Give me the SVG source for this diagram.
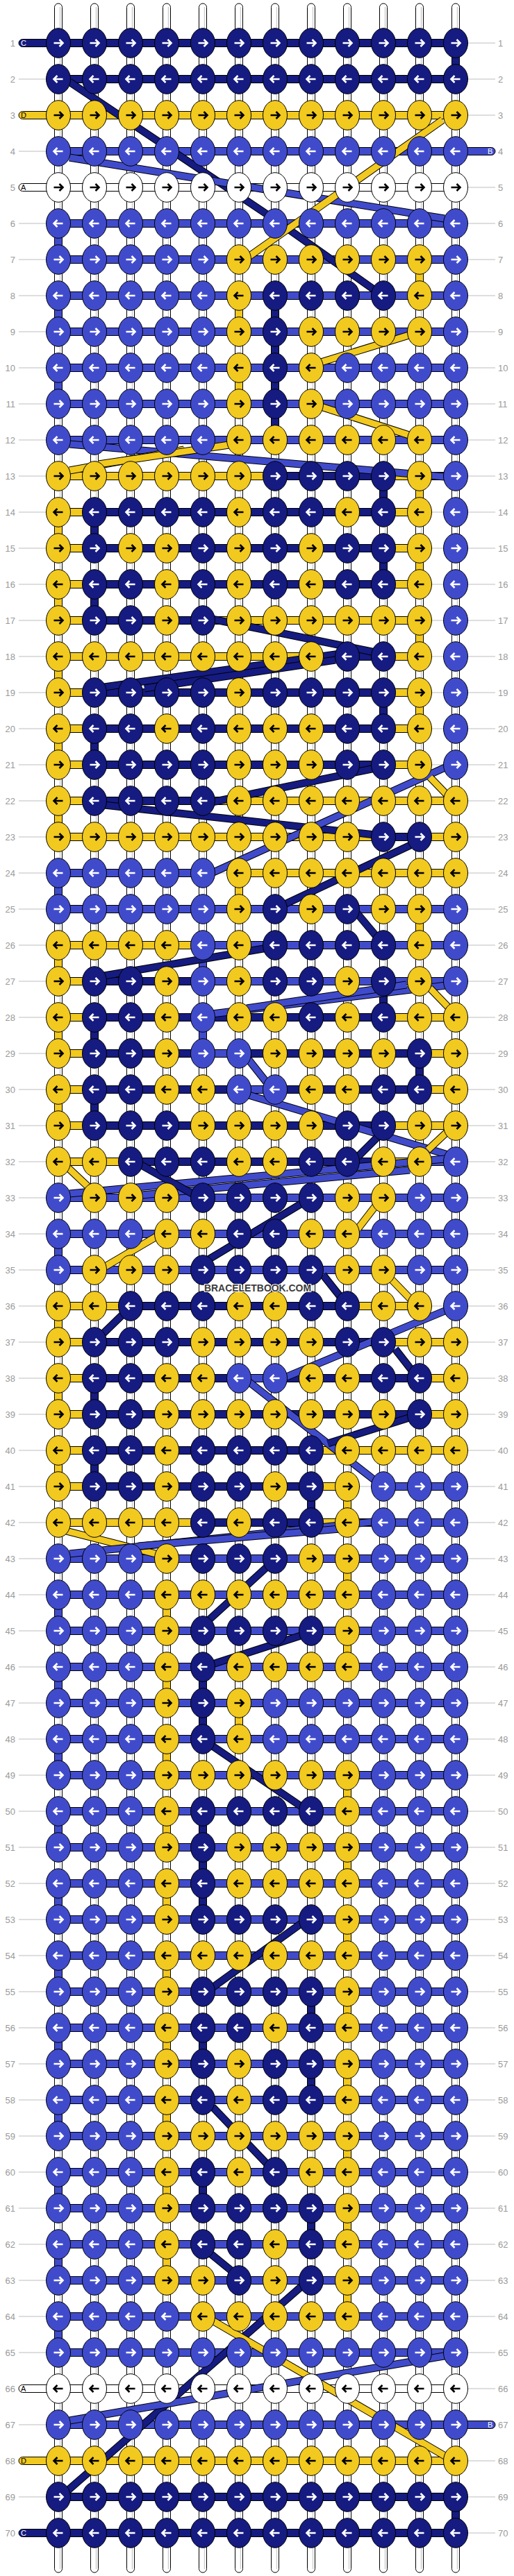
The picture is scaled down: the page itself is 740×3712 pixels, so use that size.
<svg xmlns="http://www.w3.org/2000/svg" xmlns:xlink="http://www.w3.org/1999/xlink" width="740" height="3712" viewBox="0 0 740 3712">
<style>
.st{fill:#fff;stroke:#000;stroke-width:1}
.sh{stroke:#cfcfcf;stroke-width:1.5;fill:none}
.fN{fill:#151B80;stroke:#000;stroke-width:1}
.fB{fill:#404BCC;stroke:#000;stroke-width:1}
.fY{fill:#F2C91E;stroke:#000;stroke-width:1}
.fW{fill:#fff;stroke:#000;stroke-width:1}
.gl{stroke:#bdbdbd;stroke-width:1;fill:none}
.o{stroke:#000;stroke-width:11;fill:none}
.dN{stroke:#151B80;stroke-width:9;fill:none}
.dB{stroke:#404BCC;stroke-width:9;fill:none}
.dY{stroke:#F2C91E;stroke-width:9;fill:none}
.aw{stroke:#fff;stroke-width:2.6;fill:none}
.ak{stroke:#000;stroke-width:2.6;fill:none}
.lb{font-family:"Liberation Sans",Arial,sans-serif;font-size:13px;fill:#9a9a9a}
.sl{font-family:"Liberation Sans",Arial,sans-serif;font-size:11px}
.wm{font-family:"Liberation Sans Narrow","Liberation Sans",Arial,sans-serif;font-size:14px;font-weight:bold;fill:#3c3c3c;stroke:#fff;stroke-width:2;paint-order:stroke}
</style>
<defs>
<path id="ar" d="M-6.5 0H6M1.5-5L6.5 0L1.5 5"/>
<path id="al" d="M6.5 0H-6M-1.5-5L-6.5 0L-1.5 5"/>
<g id="n"><ellipse class="fN" rx="17.5" ry="21.3"/><use href="#ar" class="aw"/></g>
<g id="N"><ellipse class="fN" rx="17.5" ry="21.3"/><use href="#al" class="aw"/></g>
<g id="b"><ellipse class="fB" rx="17.5" ry="21.3"/><use href="#ar" class="aw"/></g>
<g id="B"><ellipse class="fB" rx="17.5" ry="21.3"/><use href="#al" class="aw"/></g>
<g id="y"><ellipse class="fY" rx="17.5" ry="21.3"/><use href="#ar" class="ak"/></g>
<g id="Y"><ellipse class="fY" rx="17.5" ry="21.3"/><use href="#al" class="ak"/></g>
<g id="w"><ellipse class="fW" rx="17.5" ry="21.3"/><use href="#ar" class="ak"/></g>
<g id="W"><ellipse class="fW" rx="17.5" ry="21.3"/><use href="#al" class="ak"/></g>
</defs>
<rect width="740" height="3712" fill="#fff"/>
<g id="guides">
<path class="gl" d="M27 62H713M27 114H713M27 166H713M27 218H713M27 270H713M27 322H713M27 374H713M27 426H713M27 478H713M27 530H713M27 582H713M27 634H713M27 686H713M27 738H713M27 790H713M27 842H713M27 894H713M27 946H713M27 998H713M27 1050H713M27 1102H713M27 1154H713M27 1206H713M27 1258H713M27 1310H713M27 1362H713M27 1414H713M27 1466H713M27 1518H713M27 1570H713M27 1622H713M27 1674H713M27 1726H713M27 1778H713M27 1830H713M27 1882H713M27 1934H713M27 1986H713M27 2038H713M27 2090H713M27 2142H713M27 2194H713M27 2246H713M27 2298H713M27 2350H713M27 2402H713M27 2454H713M27 2506H713M27 2558H713M27 2610H713M27 2662H713M27 2714H713M27 2766H713M27 2818H713M27 2870H713M27 2922H713M27 2974H713M27 3026H713M27 3078H713M27 3130H713M27 3182H713M27 3234H713M27 3286H713M27 3338H713M27 3390H713M27 3442H713M27 3494H713M27 3546H713M27 3598H713M27 3650H713"/>
</g>
<g id="connectors">
<g id="strands">
<rect class="st" x="78.5" y="5" width="11" height="3702" rx="5.5"/>
<rect class="st" x="130.5" y="5" width="11" height="3702" rx="5.5"/>
<rect class="st" x="182.5" y="5" width="11" height="3702" rx="5.5"/>
<rect class="st" x="234.5" y="5" width="11" height="3702" rx="5.5"/>
<rect class="st" x="286.5" y="5" width="11" height="3702" rx="5.5"/>
<rect class="st" x="338.5" y="5" width="11" height="3702" rx="5.5"/>
<rect class="st" x="390.5" y="5" width="11" height="3702" rx="5.5"/>
<rect class="st" x="442.5" y="5" width="11" height="3702" rx="5.5"/>
<rect class="st" x="494.5" y="5" width="11" height="3702" rx="5.5"/>
<rect class="st" x="546.5" y="5" width="11" height="3702" rx="5.5"/>
<rect class="st" x="598.5" y="5" width="11" height="3702" rx="5.5"/>
<rect class="st" x="650.5" y="5" width="11" height="3702" rx="5.5"/>
<path class="sh" d="M86.5 10V3702M138.5 10V3702M190.5 10V3702M242.5 10V3702M294.5 10V3702M346.5 10V3702M398.5 10V3702M450.5 10V3702M502.5 10V3702M554.5 10V3702M606.5 10V3702M658.5 10V3702"/>
</g>
<g id="verticals">
<rect class="fN" x="650.5" y="79" width="11" height="18"/>
<rect class="fB" x="78.5" y="339" width="11" height="18"/>
<rect class="fY" x="598.5" y="391" width="11" height="18"/>
<rect class="fB" x="78.5" y="443" width="11" height="18"/><rect class="fY" x="338.5" y="443" width="11" height="18"/><rect class="fN" x="390.5" y="443" width="11" height="18"/>
<rect class="fN" x="390.5" y="495" width="11" height="18"/>
<rect class="fB" x="78.5" y="547" width="11" height="18"/><rect class="fY" x="338.5" y="547" width="11" height="18"/><rect class="fN" x="390.5" y="547" width="11" height="18"/>
<rect class="fN" x="390.5" y="599" width="11" height="18"/>
<rect class="fN" x="546.5" y="703" width="11" height="18"/><rect class="fY" x="598.5" y="703" width="11" height="18"/>
<rect class="fY" x="78.5" y="755" width="11" height="18"/><rect class="fN" x="130.5" y="755" width="11" height="18"/>
<rect class="fN" x="546.5" y="807" width="11" height="18"/><rect class="fY" x="598.5" y="807" width="11" height="18"/>
<rect class="fY" x="78.5" y="859" width="11" height="18"/><rect class="fN" x="130.5" y="859" width="11" height="18"/>
<rect class="fY" x="598.5" y="911" width="11" height="18"/>
<rect class="fY" x="78.5" y="963" width="11" height="18"/>
<rect class="fN" x="546.5" y="1015" width="11" height="18"/><rect class="fY" x="598.5" y="1015" width="11" height="18"/>
<rect class="fY" x="78.5" y="1067" width="11" height="18"/><rect class="fN" x="130.5" y="1067" width="11" height="18"/>
<rect class="fY" x="78.5" y="1171" width="11" height="18"/>
<rect class="fB" x="78.5" y="1275" width="11" height="18"/><rect class="fY" x="338.5" y="1275" width="11" height="18"/>
<rect class="fY" x="598.5" y="1327" width="11" height="18"/>
<rect class="fY" x="78.5" y="1379" width="11" height="18"/><rect class="fB" x="286.5" y="1379" width="11" height="18"/>
<rect class="fN" x="546.5" y="1431" width="11" height="18"/>
<rect class="fY" x="78.5" y="1483" width="11" height="18"/><rect class="fN" x="130.5" y="1483" width="11" height="18"/><rect class="fB" x="286.5" y="1483" width="11" height="18"/>
<rect class="fN" x="598.5" y="1535" width="11" height="18"/>
<rect class="fY" x="78.5" y="1587" width="11" height="18"/><rect class="fN" x="130.5" y="1587" width="11" height="18"/>
<rect class="fB" x="78.5" y="1795" width="11" height="18"/>
<rect class="fY" x="78.5" y="1899" width="11" height="18"/>
<rect class="fY" x="78.5" y="2003" width="11" height="18"/><rect class="fN" x="130.5" y="2003" width="11" height="18"/>
<rect class="fY" x="78.5" y="2107" width="11" height="18"/><rect class="fN" x="130.5" y="2107" width="11" height="18"/>
<rect class="fN" x="442.5" y="2159" width="11" height="18"/><rect class="fY" x="494.5" y="2159" width="11" height="18"/>
<rect class="fY" x="494.5" y="2263" width="11" height="18"/>
<rect class="fB" x="78.5" y="2315" width="11" height="18"/><rect class="fY" x="234.5" y="2315" width="11" height="18"/>
<rect class="fY" x="494.5" y="2367" width="11" height="18"/>
<rect class="fB" x="78.5" y="2419" width="11" height="18"/><rect class="fY" x="234.5" y="2419" width="11" height="18"/><rect class="fN" x="286.5" y="2419" width="11" height="18"/>
<rect class="fN" x="286.5" y="2471" width="11" height="18"/><rect class="fY" x="338.5" y="2471" width="11" height="18"/>
<rect class="fB" x="78.5" y="2523" width="11" height="18"/><rect class="fY" x="234.5" y="2523" width="11" height="18"/>
<rect class="fY" x="494.5" y="2575" width="11" height="18"/>
<rect class="fB" x="78.5" y="2627" width="11" height="18"/><rect class="fY" x="234.5" y="2627" width="11" height="18"/><rect class="fN" x="286.5" y="2627" width="11" height="18"/>
<rect class="fN" x="286.5" y="2679" width="11" height="18"/><rect class="fY" x="494.5" y="2679" width="11" height="18"/>
<rect class="fB" x="78.5" y="2731" width="11" height="18"/><rect class="fY" x="234.5" y="2731" width="11" height="18"/><rect class="fN" x="286.5" y="2731" width="11" height="18"/>
<rect class="fY" x="494.5" y="2783" width="11" height="18"/>
<rect class="fB" x="78.5" y="2835" width="11" height="18"/><rect class="fY" x="234.5" y="2835" width="11" height="18"/>
<rect class="fN" x="442.5" y="2887" width="11" height="18"/><rect class="fY" x="494.5" y="2887" width="11" height="18"/>
<rect class="fB" x="78.5" y="2939" width="11" height="18"/><rect class="fY" x="234.5" y="2939" width="11" height="18"/><rect class="fN" x="286.5" y="2939" width="11" height="18"/>
<rect class="fN" x="442.5" y="2991" width="11" height="18"/><rect class="fY" x="494.5" y="2991" width="11" height="18"/>
<rect class="fB" x="78.5" y="3043" width="11" height="18"/><rect class="fY" x="234.5" y="3043" width="11" height="18"/>
<rect class="fY" x="494.5" y="3095" width="11" height="18"/>
<rect class="fB" x="78.5" y="3147" width="11" height="18"/><rect class="fY" x="234.5" y="3147" width="11" height="18"/><rect class="fN" x="286.5" y="3147" width="11" height="18"/>
<rect class="fN" x="442.5" y="3199" width="11" height="18"/><rect class="fY" x="494.5" y="3199" width="11" height="18"/>
<rect class="fB" x="78.5" y="3251" width="11" height="18"/><rect class="fY" x="234.5" y="3251" width="11" height="18"/>
<rect class="fY" x="494.5" y="3303" width="11" height="18"/>
<rect class="fB" x="78.5" y="3355" width="11" height="18"/>
<rect class="fN" x="650.5" y="3615" width="11" height="18"/>
</g>
<g id="bars">
<rect class="fN" x="84" y="56.5" width="572" height="11"/>
<rect class="fN" x="84" y="108.5" width="572" height="11"/>
<rect class="fY" x="84" y="160.5" width="572" height="11"/>
<rect class="fB" x="84" y="212.5" width="572" height="11"/>
<rect class="fW" x="84" y="264.5" width="572" height="11"/>
<rect class="fB" x="84" y="316.5" width="572" height="11"/>
<rect class="fB" x="84" y="368.5" width="572" height="11"/>
<rect class="fB" x="84" y="420.5" width="572" height="11"/>
<rect class="fB" x="84" y="472.5" width="572" height="11"/>
<rect class="fB" x="84" y="524.5" width="572" height="11"/>
<rect class="fB" x="84" y="576.5" width="572" height="11"/>
<rect class="fB" x="84" y="628.5" width="572" height="11"/>
<rect class="fY" x="84" y="680.5" width="312" height="11"/><rect class="fN" x="396" y="680.5" width="156" height="11"/><rect class="fY" x="552" y="680.5" width="52" height="11"/><rect class="fB" x="604" y="680.5" width="52" height="11"/>
<rect class="fY" x="84" y="732.5" width="52" height="11"/><rect class="fN" x="136" y="732.5" width="416" height="11"/><rect class="fY" x="552" y="732.5" width="52" height="11"/>
<rect class="fY" x="84" y="784.5" width="52" height="11"/><rect class="fN" x="136" y="784.5" width="416" height="11"/><rect class="fY" x="552" y="784.5" width="52" height="11"/>
<rect class="fY" x="84" y="836.5" width="52" height="11"/><rect class="fN" x="136" y="836.5" width="416" height="11"/><rect class="fY" x="552" y="836.5" width="52" height="11"/>
<rect class="fY" x="84" y="888.5" width="52" height="11"/><rect class="fN" x="136" y="888.5" width="156" height="11"/><rect class="fY" x="292" y="888.5" width="312" height="11"/>
<rect class="fY" x="84" y="940.5" width="416" height="11"/><rect class="fN" x="500" y="940.5" width="52" height="11"/><rect class="fY" x="552" y="940.5" width="52" height="11"/>
<rect class="fY" x="84" y="992.5" width="52" height="11"/><rect class="fN" x="136" y="992.5" width="416" height="11"/><rect class="fY" x="552" y="992.5" width="52" height="11"/>
<rect class="fY" x="84" y="1044.5" width="52" height="11"/><rect class="fN" x="136" y="1044.5" width="416" height="11"/><rect class="fY" x="552" y="1044.5" width="52" height="11"/>
<rect class="fY" x="84" y="1096.5" width="52" height="11"/><rect class="fN" x="136" y="1096.5" width="416" height="11"/><rect class="fY" x="552" y="1096.5" width="52" height="11"/>
<rect class="fY" x="84" y="1148.5" width="52" height="11"/><rect class="fN" x="136" y="1148.5" width="156" height="11"/><rect class="fY" x="292" y="1148.5" width="364" height="11"/>
<rect class="fY" x="84" y="1200.5" width="468" height="11"/><rect class="fN" x="552" y="1200.5" width="52" height="11"/><rect class="fY" x="604" y="1200.5" width="52" height="11"/>
<rect class="fB" x="84" y="1252.5" width="208" height="11"/><rect class="fY" x="344" y="1252.5" width="312" height="11"/>
<rect class="fB" x="84" y="1304.5" width="572" height="11"/>
<rect class="fY" x="84" y="1356.5" width="208" height="11"/><rect class="fB" x="292" y="1356.5" width="364" height="11"/>
<rect class="fY" x="84" y="1408.5" width="52" height="11"/><rect class="fN" x="136" y="1408.5" width="156" height="11"/><rect class="fB" x="292" y="1408.5" width="364" height="11"/>
<rect class="fY" x="84" y="1460.5" width="52" height="11"/><rect class="fN" x="136" y="1460.5" width="416" height="11"/><rect class="fY" x="552" y="1460.5" width="104" height="11"/>
<rect class="fY" x="84" y="1512.5" width="52" height="11"/><rect class="fN" x="136" y="1512.5" width="156" height="11"/><rect class="fB" x="292" y="1512.5" width="52" height="11"/><rect class="fN" x="344" y="1512.5" width="260" height="11"/><rect class="fY" x="604" y="1512.5" width="52" height="11"/>
<rect class="fY" x="84" y="1564.5" width="52" height="11"/><rect class="fN" x="136" y="1564.5" width="208" height="11"/><rect class="fB" x="344" y="1564.5" width="52" height="11"/><rect class="fN" x="396" y="1564.5" width="208" height="11"/><rect class="fY" x="604" y="1564.5" width="52" height="11"/>
<rect class="fY" x="84" y="1616.5" width="52" height="11"/><rect class="fN" x="136" y="1616.5" width="416" height="11"/><rect class="fY" x="552" y="1616.5" width="104" height="11"/>
<rect class="fY" x="84" y="1668.5" width="104" height="11"/><rect class="fN" x="188" y="1668.5" width="364" height="11"/><rect class="fY" x="552" y="1668.5" width="52" height="11"/><rect class="fB" x="604" y="1668.5" width="52" height="11"/>
<rect class="fB" x="84" y="1720.5" width="572" height="11"/>
<rect class="fB" x="84" y="1772.5" width="572" height="11"/>
<rect class="fB" x="84" y="1824.5" width="572" height="11"/>
<rect class="fY" x="84" y="1876.5" width="104" height="11"/><rect class="fN" x="188" y="1876.5" width="312" height="11"/><rect class="fY" x="500" y="1876.5" width="104" height="11"/>
<rect class="fY" x="84" y="1928.5" width="52" height="11"/><rect class="fN" x="136" y="1928.5" width="416" height="11"/><rect class="fY" x="552" y="1928.5" width="104" height="11"/>
<rect class="fY" x="84" y="1980.5" width="52" height="11"/><rect class="fN" x="136" y="1980.5" width="208" height="11"/><rect class="fB" x="344" y="1980.5" width="52" height="11"/><rect class="fN" x="396" y="1980.5" width="208" height="11"/><rect class="fY" x="604" y="1980.5" width="52" height="11"/>
<rect class="fY" x="84" y="2032.5" width="52" height="11"/><rect class="fN" x="136" y="2032.5" width="468" height="11"/><rect class="fY" x="604" y="2032.5" width="52" height="11"/>
<rect class="fY" x="84" y="2084.5" width="52" height="11"/><rect class="fN" x="136" y="2084.5" width="312" height="11"/><rect class="fY" x="448" y="2084.5" width="208" height="11"/>
<rect class="fY" x="84" y="2136.5" width="52" height="11"/><rect class="fN" x="136" y="2136.5" width="312" height="11"/><rect class="fY" x="448" y="2136.5" width="52" height="11"/><rect class="fB" x="552" y="2136.5" width="104" height="11"/>
<rect class="fY" x="84" y="2188.5" width="208" height="11"/><rect class="fN" x="292" y="2188.5" width="156" height="11"/><rect class="fY" x="448" y="2188.5" width="52" height="11"/><rect class="fB" x="500" y="2188.5" width="156" height="11"/>
<rect class="fB" x="84" y="2240.5" width="572" height="11"/>
<rect class="fB" x="84" y="2292.5" width="572" height="11"/>
<rect class="fB" x="84" y="2344.5" width="572" height="11"/>
<rect class="fB" x="84" y="2396.5" width="572" height="11"/>
<rect class="fB" x="84" y="2448.5" width="572" height="11"/>
<rect class="fB" x="84" y="2500.5" width="572" height="11"/>
<rect class="fB" x="84" y="2552.5" width="572" height="11"/>
<rect class="fB" x="84" y="2604.5" width="572" height="11"/>
<rect class="fB" x="84" y="2656.5" width="572" height="11"/>
<rect class="fB" x="84" y="2708.5" width="572" height="11"/>
<rect class="fB" x="84" y="2760.5" width="572" height="11"/>
<rect class="fB" x="84" y="2812.5" width="572" height="11"/>
<rect class="fB" x="84" y="2864.5" width="572" height="11"/>
<rect class="fB" x="84" y="2916.5" width="572" height="11"/>
<rect class="fB" x="84" y="2968.5" width="572" height="11"/>
<rect class="fB" x="84" y="3020.5" width="572" height="11"/>
<rect class="fB" x="84" y="3072.5" width="572" height="11"/>
<rect class="fB" x="84" y="3124.5" width="572" height="11"/>
<rect class="fB" x="84" y="3176.5" width="572" height="11"/>
<rect class="fB" x="84" y="3228.5" width="572" height="11"/>
<rect class="fB" x="84" y="3280.5" width="572" height="11"/>
<rect class="fB" x="84" y="3332.5" width="572" height="11"/>
<rect class="fB" x="84" y="3384.5" width="572" height="11"/>
<rect class="fW" x="84" y="3436.5" width="572" height="11"/>
<rect class="fB" x="84" y="3488.5" width="572" height="11"/>
<rect class="fY" x="84" y="3540.5" width="572" height="11"/>
<rect class="fN" x="84" y="3592.5" width="572" height="11"/>
<rect class="fN" x="84" y="3644.5" width="572" height="11"/>
</g>
<g id="ends">
<rect class="fN" x="27" y="56.5" width="62" height="11" rx="5.5"/>
<rect class="fY" x="27" y="160.5" width="62" height="11" rx="5.5"/>
<rect class="fW" x="27" y="264.5" width="62" height="11" rx="5.5"/>
<rect class="fB" x="651" y="212.5" width="62" height="11" rx="5.5"/>
<rect class="fW" x="27" y="3436.5" width="62" height="11" rx="5.5"/>
<rect class="fB" x="651" y="3488.5" width="62" height="11" rx="5.5"/>
<rect class="fY" x="27" y="3540.5" width="62" height="11" rx="5.5"/>
<rect class="fN" x="27" y="3644.5" width="62" height="11" rx="5.5"/>
<g class="sl">
<text x="30" y="66" fill="#fff">C</text>
<text x="30" y="170" fill="#000">D</text>
<text x="30" y="274" fill="#000">A</text>
<text x="702" y="222" fill="#fff">B</text>
<text x="30" y="3446" fill="#000">A</text>
<text x="702" y="3498" fill="#fff">B</text>
<text x="30" y="3550" fill="#000">D</text>
<text x="30" y="3654" fill="#fff">C</text>
</g>
</g>
<g id="diagonals">
<polyline class="o" points="100,118 398,318 545,422"/><polyline class="dN" points="100,118 398,318 545,422"/>
<line class="o" x1="100" y1="227" x2="640" y2="315"/><line class="dB" x1="100" y1="227" x2="640" y2="315"/>
<line class="o" x1="637" y1="173" x2="355" y2="372"/><line class="dY" x1="637" y1="173" x2="355" y2="372"/>
<line class="o" x1="592" y1="482" x2="462" y2="522"/><line class="dY" x1="592" y1="482" x2="462" y2="522"/>
<line class="o" x1="462" y1="586" x2="592" y2="628"/><line class="dY" x1="462" y1="586" x2="592" y2="628"/>
<line class="o" x1="100" y1="640" x2="640" y2="687"/><line class="dB" x1="100" y1="640" x2="640" y2="687"/>
<line class="o" x1="100" y1="678" x2="265" y2="648"/><line class="dY" x1="100" y1="678" x2="265" y2="648"/>
<line class="o" x1="142" y1="669" x2="330" y2="641"/><line class="dY" x1="142" y1="669" x2="330" y2="641"/>
<line class="o" x1="305" y1="892" x2="540" y2="940"/><line class="dN" x1="305" y1="892" x2="540" y2="940"/>
<line class="o" x1="490" y1="942" x2="150" y2="990"/><line class="dN" x1="490" y1="942" x2="150" y2="990"/>
<line class="o" x1="483" y1="951" x2="208" y2="992"/><line class="dN" x1="483" y1="951" x2="208" y2="992"/>
<line class="o" x1="545" y1="1106" x2="305" y2="1156"/><line class="dN" x1="545" y1="1106" x2="305" y2="1156"/>
<line class="o" x1="150" y1="1160" x2="540" y2="1203"/><line class="dN" x1="150" y1="1160" x2="540" y2="1203"/>
<line class="o" x1="645" y1="1104" x2="305" y2="1258"/><line class="dB" x1="645" y1="1104" x2="305" y2="1258"/>
<line class="o" x1="619" y1="1120" x2="646" y2="1148"/><line class="dY" x1="619" y1="1120" x2="646" y2="1148"/>
<line class="o" x1="595" y1="1216" x2="410" y2="1303"/><line class="dN" x1="595" y1="1216" x2="410" y2="1303"/>
<line class="o" x1="514" y1="1316" x2="545" y2="1353"/><line class="dN" x1="514" y1="1316" x2="545" y2="1353"/>
<line class="o" x1="385" y1="1366" x2="150" y2="1406"/><line class="dN" x1="385" y1="1366" x2="150" y2="1406"/>
<line class="o" x1="642" y1="1420" x2="305" y2="1461"/><line class="dB" x1="642" y1="1420" x2="305" y2="1461"/>
<line class="o" x1="585" y1="1419" x2="355" y2="1453"/><line class="dB" x1="585" y1="1419" x2="355" y2="1453"/>
<line class="o" x1="619" y1="1424" x2="646" y2="1452"/><line class="dY" x1="619" y1="1424" x2="646" y2="1452"/>
<line class="o" x1="358" y1="1527" x2="388" y2="1565"/><line class="dB" x1="358" y1="1527" x2="388" y2="1565"/>
<line class="o" x1="358" y1="1578" x2="645" y2="1664"/><line class="dB" x1="358" y1="1578" x2="645" y2="1664"/>
<line class="o" x1="515" y1="1667" x2="545" y2="1637"/><line class="dN" x1="515" y1="1667" x2="545" y2="1637"/>
<line class="o" x1="616" y1="1657" x2="648" y2="1627"/><line class="dY" x1="616" y1="1657" x2="648" y2="1627"/>
<line class="o" x1="640" y1="1670" x2="100" y2="1720"/><line class="dB" x1="640" y1="1670" x2="100" y2="1720"/>
<line class="o" x1="590" y1="1686" x2="204" y2="1722"/><line class="dB" x1="590" y1="1686" x2="204" y2="1722"/>
<line class="o" x1="200" y1="1677" x2="280" y2="1722"/><line class="dN" x1="200" y1="1677" x2="280" y2="1722"/>
<line class="o" x1="95" y1="1680" x2="128" y2="1711"/><line class="dY" x1="95" y1="1680" x2="128" y2="1711"/>
<line class="o" x1="438" y1="1732" x2="300" y2="1815"/><line class="dN" x1="438" y1="1732" x2="300" y2="1815"/>
<line class="o" x1="545" y1="1732" x2="515" y2="1771"/><line class="dY" x1="545" y1="1732" x2="515" y2="1771"/>
<line class="o" x1="225" y1="1782" x2="150" y2="1826"/><line class="dY" x1="225" y1="1782" x2="150" y2="1826"/>
<line class="o" x1="465" y1="1837" x2="495" y2="1875"/><line class="dN" x1="465" y1="1837" x2="495" y2="1875"/>
<line class="o" x1="564" y1="1844" x2="594" y2="1875"/><line class="dY" x1="564" y1="1844" x2="594" y2="1875"/>
<line class="o" x1="180" y1="1891" x2="145" y2="1925"/><line class="dN" x1="180" y1="1891" x2="145" y2="1925"/>
<line class="o" x1="645" y1="1887" x2="410" y2="1985"/><line class="dB" x1="645" y1="1887" x2="410" y2="1985"/>
<line class="o" x1="569" y1="1944" x2="597" y2="1980"/><line class="dN" x1="569" y1="1944" x2="597" y2="1980"/>
<line class="o" x1="358" y1="1991" x2="542" y2="2135"/><line class="dB" x1="358" y1="1991" x2="542" y2="2135"/>
<line class="o" x1="592" y1="2042" x2="472" y2="2080"/><line class="dN" x1="592" y1="2042" x2="472" y2="2080"/>
<line class="o" x1="95" y1="2206" x2="228" y2="2240"/><line class="dY" x1="95" y1="2206" x2="228" y2="2240"/>
<line class="o" x1="100" y1="2239" x2="545" y2="2192"/><line class="dB" x1="100" y1="2239" x2="545" y2="2192"/>
<line class="o" x1="199" y1="2228" x2="490" y2="2203"/><line class="dB" x1="199" y1="2228" x2="490" y2="2203"/>
<line class="o" x1="392" y1="2251" x2="300" y2="2335"/><line class="dN" x1="392" y1="2251" x2="300" y2="2335"/>
<line class="o" x1="436" y1="2356" x2="306" y2="2398"/><line class="dN" x1="436" y1="2356" x2="306" y2="2398"/>
<line class="o" x1="300" y1="2512" x2="438" y2="2606"/><line class="dN" x1="300" y1="2512" x2="438" y2="2606"/>
<line class="o" x1="436" y1="2770" x2="306" y2="2864"/><line class="dN" x1="436" y1="2770" x2="306" y2="2864"/>
<line class="o" x1="306" y1="3036" x2="388" y2="3122"/><line class="dN" x1="306" y1="3036" x2="388" y2="3122"/>
<line class="o" x1="300" y1="3245" x2="338" y2="3276"/><line class="dN" x1="300" y1="3245" x2="338" y2="3276"/>
<line class="o" x1="436" y1="3293" x2="95" y2="3591"/><line class="dN" x1="436" y1="3293" x2="95" y2="3591"/>
<line class="o" x1="306" y1="3344" x2="644" y2="3541"/><line class="dY" x1="306" y1="3344" x2="644" y2="3541"/>
<line class="o" x1="100" y1="3488" x2="645" y2="3394"/><line class="dB" x1="100" y1="3488" x2="645" y2="3394"/>
</g>
</g>
<g id="knots">
<g id="r1" transform="translate(0 62)"><use href="#n" x="84"/><use href="#n" x="136"/><use href="#n" x="188"/><use href="#n" x="240"/><use href="#n" x="292"/><use href="#n" x="344"/><use href="#n" x="396"/><use href="#n" x="448"/><use href="#n" x="500"/><use href="#n" x="552"/><use href="#n" x="604"/><use href="#n" x="656"/></g>
<g id="r2" transform="translate(0 114)"><use href="#N" x="84"/><use href="#N" x="136"/><use href="#N" x="188"/><use href="#N" x="240"/><use href="#N" x="292"/><use href="#N" x="344"/><use href="#N" x="396"/><use href="#N" x="448"/><use href="#N" x="500"/><use href="#N" x="552"/><use href="#N" x="604"/><use href="#N" x="656"/></g>
<g id="r3" transform="translate(0 166)"><use href="#y" x="84"/><use href="#y" x="136"/><use href="#y" x="188"/><use href="#y" x="240"/><use href="#y" x="292"/><use href="#y" x="344"/><use href="#y" x="396"/><use href="#y" x="448"/><use href="#y" x="500"/><use href="#y" x="552"/><use href="#y" x="604"/><use href="#y" x="656"/></g>
<g id="r4" transform="translate(0 218)"><use href="#B" x="84"/><use href="#B" x="136"/><use href="#B" x="188"/><use href="#B" x="240"/><use href="#B" x="292"/><use href="#B" x="344"/><use href="#B" x="396"/><use href="#B" x="448"/><use href="#B" x="500"/><use href="#B" x="552"/><use href="#B" x="604"/><use href="#B" x="656"/></g>
<g id="r5" transform="translate(0 270)"><use href="#w" x="84"/><use href="#w" x="136"/><use href="#w" x="188"/><use href="#w" x="240"/><use href="#w" x="292"/><use href="#w" x="344"/><use href="#w" x="396"/><use href="#w" x="448"/><use href="#w" x="500"/><use href="#w" x="552"/><use href="#w" x="604"/><use href="#w" x="656"/></g>
<g id="r6" transform="translate(0 322)"><use href="#B" x="84"/><use href="#B" x="136"/><use href="#B" x="188"/><use href="#B" x="240"/><use href="#B" x="292"/><use href="#B" x="344"/><use href="#B" x="396"/><use href="#B" x="448"/><use href="#B" x="500"/><use href="#B" x="552"/><use href="#B" x="604"/><use href="#B" x="656"/></g>
<g id="r7" transform="translate(0 374)"><use href="#b" x="84"/><use href="#b" x="136"/><use href="#b" x="188"/><use href="#b" x="240"/><use href="#b" x="292"/><use href="#y" x="344"/><use href="#y" x="396"/><use href="#y" x="448"/><use href="#y" x="500"/><use href="#y" x="552"/><use href="#y" x="604"/><use href="#b" x="656"/></g>
<g id="r8" transform="translate(0 426)"><use href="#B" x="84"/><use href="#B" x="136"/><use href="#B" x="188"/><use href="#B" x="240"/><use href="#B" x="292"/><use href="#Y" x="344"/><use href="#N" x="396"/><use href="#N" x="448"/><use href="#N" x="500"/><use href="#N" x="552"/><use href="#Y" x="604"/><use href="#B" x="656"/></g>
<g id="r9" transform="translate(0 478)"><use href="#b" x="84"/><use href="#b" x="136"/><use href="#b" x="188"/><use href="#b" x="240"/><use href="#b" x="292"/><use href="#y" x="344"/><use href="#n" x="396"/><use href="#y" x="448"/><use href="#y" x="500"/><use href="#y" x="552"/><use href="#y" x="604"/><use href="#b" x="656"/></g>
<g id="r10" transform="translate(0 530)"><use href="#B" x="84"/><use href="#B" x="136"/><use href="#B" x="188"/><use href="#B" x="240"/><use href="#B" x="292"/><use href="#Y" x="344"/><use href="#N" x="396"/><use href="#Y" x="448"/><use href="#B" x="500"/><use href="#B" x="552"/><use href="#B" x="604"/><use href="#B" x="656"/></g>
<g id="r11" transform="translate(0 582)"><use href="#b" x="84"/><use href="#b" x="136"/><use href="#b" x="188"/><use href="#b" x="240"/><use href="#b" x="292"/><use href="#y" x="344"/><use href="#n" x="396"/><use href="#y" x="448"/><use href="#b" x="500"/><use href="#b" x="552"/><use href="#b" x="604"/><use href="#b" x="656"/></g>
<g id="r12" transform="translate(0 634)"><use href="#B" x="84"/><use href="#B" x="136"/><use href="#B" x="188"/><use href="#B" x="240"/><use href="#B" x="292"/><use href="#Y" x="344"/><use href="#Y" x="396"/><use href="#Y" x="448"/><use href="#Y" x="500"/><use href="#Y" x="552"/><use href="#Y" x="604"/><use href="#B" x="656"/></g>
<g id="r13" transform="translate(0 686)"><use href="#y" x="84"/><use href="#y" x="136"/><use href="#y" x="188"/><use href="#y" x="240"/><use href="#y" x="292"/><use href="#y" x="344"/><use href="#n" x="396"/><use href="#n" x="448"/><use href="#n" x="500"/><use href="#n" x="552"/><use href="#y" x="604"/><use href="#b" x="656"/></g>
<g id="r14" transform="translate(0 738)"><use href="#Y" x="84"/><use href="#N" x="136"/><use href="#N" x="188"/><use href="#N" x="240"/><use href="#N" x="292"/><use href="#Y" x="344"/><use href="#N" x="396"/><use href="#N" x="448"/><use href="#Y" x="500"/><use href="#N" x="552"/><use href="#Y" x="604"/><use href="#B" x="656"/></g>
<g id="r15" transform="translate(0 790)"><use href="#y" x="84"/><use href="#n" x="136"/><use href="#y" x="188"/><use href="#y" x="240"/><use href="#n" x="292"/><use href="#y" x="344"/><use href="#n" x="396"/><use href="#y" x="448"/><use href="#n" x="500"/><use href="#n" x="552"/><use href="#y" x="604"/><use href="#b" x="656"/></g>
<g id="r16" transform="translate(0 842)"><use href="#Y" x="84"/><use href="#N" x="136"/><use href="#N" x="188"/><use href="#Y" x="240"/><use href="#N" x="292"/><use href="#Y" x="344"/><use href="#N" x="396"/><use href="#Y" x="448"/><use href="#N" x="500"/><use href="#N" x="552"/><use href="#Y" x="604"/><use href="#B" x="656"/></g>
<g id="r17" transform="translate(0 894)"><use href="#y" x="84"/><use href="#n" x="136"/><use href="#n" x="188"/><use href="#y" x="240"/><use href="#n" x="292"/><use href="#y" x="344"/><use href="#y" x="396"/><use href="#y" x="448"/><use href="#y" x="500"/><use href="#y" x="552"/><use href="#y" x="604"/><use href="#b" x="656"/></g>
<g id="r18" transform="translate(0 946)"><use href="#Y" x="84"/><use href="#Y" x="136"/><use href="#Y" x="188"/><use href="#Y" x="240"/><use href="#Y" x="292"/><use href="#Y" x="344"/><use href="#Y" x="396"/><use href="#Y" x="448"/><use href="#N" x="500"/><use href="#N" x="552"/><use href="#Y" x="604"/><use href="#B" x="656"/></g>
<g id="r19" transform="translate(0 998)"><use href="#y" x="84"/><use href="#n" x="136"/><use href="#n" x="188"/><use href="#n" x="240"/><use href="#n" x="292"/><use href="#y" x="344"/><use href="#n" x="396"/><use href="#n" x="448"/><use href="#n" x="500"/><use href="#n" x="552"/><use href="#y" x="604"/><use href="#b" x="656"/></g>
<g id="r20" transform="translate(0 1050)"><use href="#Y" x="84"/><use href="#N" x="136"/><use href="#N" x="188"/><use href="#Y" x="240"/><use href="#N" x="292"/><use href="#Y" x="344"/><use href="#Y" x="396"/><use href="#Y" x="448"/><use href="#N" x="500"/><use href="#N" x="552"/><use href="#Y" x="604"/><use href="#B" x="656"/></g>
<g id="r21" transform="translate(0 1102)"><use href="#y" x="84"/><use href="#n" x="136"/><use href="#n" x="188"/><use href="#n" x="240"/><use href="#n" x="292"/><use href="#y" x="344"/><use href="#y" x="396"/><use href="#y" x="448"/><use href="#n" x="500"/><use href="#n" x="552"/><use href="#y" x="604"/><use href="#b" x="656"/></g>
<g id="r22" transform="translate(0 1154)"><use href="#Y" x="84"/><use href="#N" x="136"/><use href="#N" x="188"/><use href="#N" x="240"/><use href="#N" x="292"/><use href="#Y" x="344"/><use href="#Y" x="396"/><use href="#Y" x="448"/><use href="#Y" x="500"/><use href="#Y" x="552"/><use href="#Y" x="604"/><use href="#Y" x="656"/></g>
<g id="r23" transform="translate(0 1206)"><use href="#y" x="84"/><use href="#y" x="136"/><use href="#y" x="188"/><use href="#y" x="240"/><use href="#y" x="292"/><use href="#y" x="344"/><use href="#y" x="396"/><use href="#y" x="448"/><use href="#y" x="500"/><use href="#n" x="552"/><use href="#n" x="604"/><use href="#y" x="656"/></g>
<g id="r24" transform="translate(0 1258)"><use href="#B" x="84"/><use href="#B" x="136"/><use href="#B" x="188"/><use href="#B" x="240"/><use href="#B" x="292"/><use href="#Y" x="344"/><use href="#Y" x="396"/><use href="#Y" x="448"/><use href="#Y" x="500"/><use href="#Y" x="552"/><use href="#Y" x="604"/><use href="#Y" x="656"/></g>
<g id="r25" transform="translate(0 1310)"><use href="#b" x="84"/><use href="#b" x="136"/><use href="#b" x="188"/><use href="#b" x="240"/><use href="#b" x="292"/><use href="#y" x="344"/><use href="#n" x="396"/><use href="#y" x="448"/><use href="#n" x="500"/><use href="#y" x="552"/><use href="#y" x="604"/><use href="#b" x="656"/></g>
<g id="r26" transform="translate(0 1362)"><use href="#Y" x="84"/><use href="#Y" x="136"/><use href="#Y" x="188"/><use href="#Y" x="240"/><use href="#B" x="292"/><use href="#Y" x="344"/><use href="#N" x="396"/><use href="#N" x="448"/><use href="#N" x="500"/><use href="#N" x="552"/><use href="#Y" x="604"/><use href="#B" x="656"/></g>
<g id="r27" transform="translate(0 1414)"><use href="#y" x="84"/><use href="#n" x="136"/><use href="#n" x="188"/><use href="#y" x="240"/><use href="#b" x="292"/><use href="#y" x="344"/><use href="#n" x="396"/><use href="#n" x="448"/><use href="#y" x="500"/><use href="#n" x="552"/><use href="#y" x="604"/><use href="#b" x="656"/></g>
<g id="r28" transform="translate(0 1466)"><use href="#Y" x="84"/><use href="#N" x="136"/><use href="#N" x="188"/><use href="#Y" x="240"/><use href="#B" x="292"/><use href="#Y" x="344"/><use href="#Y" x="396"/><use href="#N" x="448"/><use href="#Y" x="500"/><use href="#N" x="552"/><use href="#Y" x="604"/><use href="#Y" x="656"/></g>
<g id="r29" transform="translate(0 1518)"><use href="#y" x="84"/><use href="#n" x="136"/><use href="#n" x="188"/><use href="#y" x="240"/><use href="#b" x="292"/><use href="#b" x="344"/><use href="#y" x="396"/><use href="#y" x="448"/><use href="#y" x="500"/><use href="#y" x="552"/><use href="#n" x="604"/><use href="#y" x="656"/></g>
<g id="r30" transform="translate(0 1570)"><use href="#Y" x="84"/><use href="#N" x="136"/><use href="#N" x="188"/><use href="#Y" x="240"/><use href="#Y" x="292"/><use href="#B" x="344"/><use href="#B" x="396"/><use href="#Y" x="448"/><use href="#Y" x="500"/><use href="#N" x="552"/><use href="#N" x="604"/><use href="#Y" x="656"/></g>
<g id="r31" transform="translate(0 1622)"><use href="#y" x="84"/><use href="#n" x="136"/><use href="#n" x="188"/><use href="#n" x="240"/><use href="#y" x="292"/><use href="#y" x="344"/><use href="#y" x="396"/><use href="#y" x="448"/><use href="#n" x="500"/><use href="#n" x="552"/><use href="#y" x="604"/><use href="#y" x="656"/></g>
<g id="r32" transform="translate(0 1674)"><use href="#Y" x="84"/><use href="#Y" x="136"/><use href="#N" x="188"/><use href="#N" x="240"/><use href="#N" x="292"/><use href="#Y" x="344"/><use href="#Y" x="396"/><use href="#N" x="448"/><use href="#N" x="500"/><use href="#Y" x="552"/><use href="#Y" x="604"/><use href="#B" x="656"/></g>
<g id="r33" transform="translate(0 1726)"><use href="#b" x="84"/><use href="#y" x="136"/><use href="#y" x="188"/><use href="#y" x="240"/><use href="#n" x="292"/><use href="#n" x="344"/><use href="#n" x="396"/><use href="#n" x="448"/><use href="#y" x="500"/><use href="#y" x="552"/><use href="#b" x="604"/><use href="#b" x="656"/></g>
<g id="r34" transform="translate(0 1778)"><use href="#B" x="84"/><use href="#B" x="136"/><use href="#B" x="188"/><use href="#Y" x="240"/><use href="#Y" x="292"/><use href="#N" x="344"/><use href="#N" x="396"/><use href="#Y" x="448"/><use href="#Y" x="500"/><use href="#B" x="552"/><use href="#B" x="604"/><use href="#B" x="656"/></g>
<g id="r35" transform="translate(0 1830)"><use href="#b" x="84"/><use href="#y" x="136"/><use href="#y" x="188"/><use href="#y" x="240"/><use href="#n" x="292"/><use href="#n" x="344"/><use href="#n" x="396"/><use href="#n" x="448"/><use href="#y" x="500"/><use href="#y" x="552"/><use href="#b" x="604"/><use href="#b" x="656"/></g>
<g id="r36" transform="translate(0 1882)"><use href="#Y" x="84"/><use href="#Y" x="136"/><use href="#N" x="188"/><use href="#N" x="240"/><use href="#N" x="292"/><use href="#Y" x="344"/><use href="#Y" x="396"/><use href="#N" x="448"/><use href="#N" x="500"/><use href="#Y" x="552"/><use href="#Y" x="604"/><use href="#B" x="656"/></g>
<g id="r37" transform="translate(0 1934)"><use href="#y" x="84"/><use href="#n" x="136"/><use href="#n" x="188"/><use href="#n" x="240"/><use href="#y" x="292"/><use href="#y" x="344"/><use href="#y" x="396"/><use href="#y" x="448"/><use href="#n" x="500"/><use href="#n" x="552"/><use href="#y" x="604"/><use href="#y" x="656"/></g>
<g id="r38" transform="translate(0 1986)"><use href="#Y" x="84"/><use href="#N" x="136"/><use href="#N" x="188"/><use href="#Y" x="240"/><use href="#Y" x="292"/><use href="#B" x="344"/><use href="#B" x="396"/><use href="#Y" x="448"/><use href="#Y" x="500"/><use href="#N" x="552"/><use href="#N" x="604"/><use href="#Y" x="656"/></g>
<g id="r39" transform="translate(0 2038)"><use href="#y" x="84"/><use href="#n" x="136"/><use href="#n" x="188"/><use href="#y" x="240"/><use href="#y" x="292"/><use href="#y" x="344"/><use href="#y" x="396"/><use href="#y" x="448"/><use href="#y" x="500"/><use href="#y" x="552"/><use href="#n" x="604"/><use href="#y" x="656"/></g>
<g id="r40" transform="translate(0 2090)"><use href="#Y" x="84"/><use href="#N" x="136"/><use href="#N" x="188"/><use href="#Y" x="240"/><use href="#N" x="292"/><use href="#N" x="344"/><use href="#N" x="396"/><use href="#N" x="448"/><use href="#Y" x="500"/><use href="#Y" x="552"/><use href="#Y" x="604"/><use href="#Y" x="656"/></g>
<g id="r41" transform="translate(0 2142)"><use href="#y" x="84"/><use href="#n" x="136"/><use href="#n" x="188"/><use href="#y" x="240"/><use href="#n" x="292"/><use href="#n" x="344"/><use href="#y" x="396"/><use href="#n" x="448"/><use href="#y" x="500"/><use href="#b" x="552"/><use href="#b" x="604"/><use href="#b" x="656"/></g>
<g id="r42" transform="translate(0 2194)"><use href="#Y" x="84"/><use href="#Y" x="136"/><use href="#Y" x="188"/><use href="#Y" x="240"/><use href="#N" x="292"/><use href="#Y" x="344"/><use href="#N" x="396"/><use href="#N" x="448"/><use href="#Y" x="500"/><use href="#B" x="552"/><use href="#B" x="604"/><use href="#B" x="656"/></g>
<g id="r43" transform="translate(0 2246)"><use href="#b" x="84"/><use href="#b" x="136"/><use href="#b" x="188"/><use href="#y" x="240"/><use href="#n" x="292"/><use href="#n" x="344"/><use href="#n" x="396"/><use href="#y" x="448"/><use href="#y" x="500"/><use href="#b" x="552"/><use href="#b" x="604"/><use href="#b" x="656"/></g>
<g id="r44" transform="translate(0 2298)"><use href="#B" x="84"/><use href="#B" x="136"/><use href="#B" x="188"/><use href="#Y" x="240"/><use href="#Y" x="292"/><use href="#Y" x="344"/><use href="#Y" x="396"/><use href="#Y" x="448"/><use href="#Y" x="500"/><use href="#B" x="552"/><use href="#B" x="604"/><use href="#B" x="656"/></g>
<g id="r45" transform="translate(0 2350)"><use href="#b" x="84"/><use href="#b" x="136"/><use href="#b" x="188"/><use href="#y" x="240"/><use href="#n" x="292"/><use href="#n" x="344"/><use href="#n" x="396"/><use href="#n" x="448"/><use href="#y" x="500"/><use href="#b" x="552"/><use href="#b" x="604"/><use href="#b" x="656"/></g>
<g id="r46" transform="translate(0 2402)"><use href="#B" x="84"/><use href="#B" x="136"/><use href="#B" x="188"/><use href="#Y" x="240"/><use href="#N" x="292"/><use href="#Y" x="344"/><use href="#Y" x="396"/><use href="#Y" x="448"/><use href="#Y" x="500"/><use href="#B" x="552"/><use href="#B" x="604"/><use href="#B" x="656"/></g>
<g id="r47" transform="translate(0 2454)"><use href="#b" x="84"/><use href="#b" x="136"/><use href="#b" x="188"/><use href="#y" x="240"/><use href="#n" x="292"/><use href="#y" x="344"/><use href="#b" x="396"/><use href="#b" x="448"/><use href="#b" x="500"/><use href="#b" x="552"/><use href="#b" x="604"/><use href="#b" x="656"/></g>
<g id="r48" transform="translate(0 2506)"><use href="#B" x="84"/><use href="#B" x="136"/><use href="#B" x="188"/><use href="#Y" x="240"/><use href="#N" x="292"/><use href="#Y" x="344"/><use href="#B" x="396"/><use href="#B" x="448"/><use href="#B" x="500"/><use href="#B" x="552"/><use href="#B" x="604"/><use href="#B" x="656"/></g>
<g id="r49" transform="translate(0 2558)"><use href="#b" x="84"/><use href="#b" x="136"/><use href="#b" x="188"/><use href="#y" x="240"/><use href="#y" x="292"/><use href="#y" x="344"/><use href="#y" x="396"/><use href="#y" x="448"/><use href="#y" x="500"/><use href="#b" x="552"/><use href="#b" x="604"/><use href="#b" x="656"/></g>
<g id="r50" transform="translate(0 2610)"><use href="#B" x="84"/><use href="#B" x="136"/><use href="#B" x="188"/><use href="#Y" x="240"/><use href="#N" x="292"/><use href="#N" x="344"/><use href="#N" x="396"/><use href="#N" x="448"/><use href="#Y" x="500"/><use href="#B" x="552"/><use href="#B" x="604"/><use href="#B" x="656"/></g>
<g id="r51" transform="translate(0 2662)"><use href="#b" x="84"/><use href="#b" x="136"/><use href="#b" x="188"/><use href="#y" x="240"/><use href="#n" x="292"/><use href="#y" x="344"/><use href="#y" x="396"/><use href="#y" x="448"/><use href="#y" x="500"/><use href="#b" x="552"/><use href="#b" x="604"/><use href="#b" x="656"/></g>
<g id="r52" transform="translate(0 2714)"><use href="#B" x="84"/><use href="#B" x="136"/><use href="#B" x="188"/><use href="#Y" x="240"/><use href="#N" x="292"/><use href="#Y" x="344"/><use href="#Y" x="396"/><use href="#Y" x="448"/><use href="#Y" x="500"/><use href="#B" x="552"/><use href="#B" x="604"/><use href="#B" x="656"/></g>
<g id="r53" transform="translate(0 2766)"><use href="#b" x="84"/><use href="#b" x="136"/><use href="#b" x="188"/><use href="#y" x="240"/><use href="#n" x="292"/><use href="#n" x="344"/><use href="#n" x="396"/><use href="#n" x="448"/><use href="#y" x="500"/><use href="#b" x="552"/><use href="#b" x="604"/><use href="#b" x="656"/></g>
<g id="r54" transform="translate(0 2818)"><use href="#B" x="84"/><use href="#B" x="136"/><use href="#B" x="188"/><use href="#Y" x="240"/><use href="#Y" x="292"/><use href="#Y" x="344"/><use href="#Y" x="396"/><use href="#Y" x="448"/><use href="#Y" x="500"/><use href="#B" x="552"/><use href="#B" x="604"/><use href="#B" x="656"/></g>
<g id="r55" transform="translate(0 2870)"><use href="#b" x="84"/><use href="#b" x="136"/><use href="#b" x="188"/><use href="#y" x="240"/><use href="#n" x="292"/><use href="#n" x="344"/><use href="#n" x="396"/><use href="#n" x="448"/><use href="#y" x="500"/><use href="#b" x="552"/><use href="#b" x="604"/><use href="#b" x="656"/></g>
<g id="r56" transform="translate(0 2922)"><use href="#B" x="84"/><use href="#B" x="136"/><use href="#B" x="188"/><use href="#Y" x="240"/><use href="#N" x="292"/><use href="#N" x="344"/><use href="#Y" x="396"/><use href="#N" x="448"/><use href="#Y" x="500"/><use href="#B" x="552"/><use href="#B" x="604"/><use href="#B" x="656"/></g>
<g id="r57" transform="translate(0 2974)"><use href="#b" x="84"/><use href="#b" x="136"/><use href="#b" x="188"/><use href="#y" x="240"/><use href="#n" x="292"/><use href="#y" x="344"/><use href="#n" x="396"/><use href="#n" x="448"/><use href="#y" x="500"/><use href="#b" x="552"/><use href="#b" x="604"/><use href="#b" x="656"/></g>
<g id="r58" transform="translate(0 3026)"><use href="#B" x="84"/><use href="#B" x="136"/><use href="#B" x="188"/><use href="#Y" x="240"/><use href="#N" x="292"/><use href="#Y" x="344"/><use href="#N" x="396"/><use href="#N" x="448"/><use href="#Y" x="500"/><use href="#B" x="552"/><use href="#B" x="604"/><use href="#B" x="656"/></g>
<g id="r59" transform="translate(0 3078)"><use href="#b" x="84"/><use href="#b" x="136"/><use href="#b" x="188"/><use href="#y" x="240"/><use href="#y" x="292"/><use href="#y" x="344"/><use href="#y" x="396"/><use href="#y" x="448"/><use href="#y" x="500"/><use href="#b" x="552"/><use href="#b" x="604"/><use href="#b" x="656"/></g>
<g id="r60" transform="translate(0 3130)"><use href="#B" x="84"/><use href="#B" x="136"/><use href="#B" x="188"/><use href="#Y" x="240"/><use href="#N" x="292"/><use href="#Y" x="344"/><use href="#N" x="396"/><use href="#Y" x="448"/><use href="#Y" x="500"/><use href="#B" x="552"/><use href="#B" x="604"/><use href="#B" x="656"/></g>
<g id="r61" transform="translate(0 3182)"><use href="#b" x="84"/><use href="#b" x="136"/><use href="#b" x="188"/><use href="#y" x="240"/><use href="#n" x="292"/><use href="#n" x="344"/><use href="#n" x="396"/><use href="#n" x="448"/><use href="#y" x="500"/><use href="#b" x="552"/><use href="#b" x="604"/><use href="#b" x="656"/></g>
<g id="r62" transform="translate(0 3234)"><use href="#B" x="84"/><use href="#B" x="136"/><use href="#B" x="188"/><use href="#Y" x="240"/><use href="#N" x="292"/><use href="#N" x="344"/><use href="#Y" x="396"/><use href="#N" x="448"/><use href="#Y" x="500"/><use href="#B" x="552"/><use href="#B" x="604"/><use href="#B" x="656"/></g>
<g id="r63" transform="translate(0 3286)"><use href="#b" x="84"/><use href="#b" x="136"/><use href="#b" x="188"/><use href="#y" x="240"/><use href="#y" x="292"/><use href="#n" x="344"/><use href="#y" x="396"/><use href="#n" x="448"/><use href="#y" x="500"/><use href="#b" x="552"/><use href="#b" x="604"/><use href="#b" x="656"/></g>
<g id="r64" transform="translate(0 3338)"><use href="#B" x="84"/><use href="#B" x="136"/><use href="#B" x="188"/><use href="#B" x="240"/><use href="#Y" x="292"/><use href="#Y" x="344"/><use href="#Y" x="396"/><use href="#Y" x="448"/><use href="#Y" x="500"/><use href="#B" x="552"/><use href="#B" x="604"/><use href="#B" x="656"/></g>
<g id="r65" transform="translate(0 3390)"><use href="#b" x="84"/><use href="#b" x="136"/><use href="#b" x="188"/><use href="#b" x="240"/><use href="#b" x="292"/><use href="#b" x="344"/><use href="#b" x="396"/><use href="#b" x="448"/><use href="#b" x="500"/><use href="#b" x="552"/><use href="#b" x="604"/><use href="#b" x="656"/></g>
<g id="r66" transform="translate(0 3442)"><use href="#W" x="84"/><use href="#W" x="136"/><use href="#W" x="188"/><use href="#W" x="240"/><use href="#W" x="292"/><use href="#W" x="344"/><use href="#W" x="396"/><use href="#W" x="448"/><use href="#W" x="500"/><use href="#W" x="552"/><use href="#W" x="604"/><use href="#W" x="656"/></g>
<g id="r67" transform="translate(0 3494)"><use href="#b" x="84"/><use href="#b" x="136"/><use href="#b" x="188"/><use href="#b" x="240"/><use href="#b" x="292"/><use href="#b" x="344"/><use href="#b" x="396"/><use href="#b" x="448"/><use href="#b" x="500"/><use href="#b" x="552"/><use href="#b" x="604"/><use href="#b" x="656"/></g>
<g id="r68" transform="translate(0 3546)"><use href="#Y" x="84"/><use href="#Y" x="136"/><use href="#Y" x="188"/><use href="#Y" x="240"/><use href="#Y" x="292"/><use href="#Y" x="344"/><use href="#Y" x="396"/><use href="#Y" x="448"/><use href="#Y" x="500"/><use href="#Y" x="552"/><use href="#Y" x="604"/><use href="#Y" x="656"/></g>
<g id="r69" transform="translate(0 3598)"><use href="#n" x="84"/><use href="#n" x="136"/><use href="#n" x="188"/><use href="#n" x="240"/><use href="#n" x="292"/><use href="#n" x="344"/><use href="#n" x="396"/><use href="#n" x="448"/><use href="#n" x="500"/><use href="#n" x="552"/><use href="#n" x="604"/><use href="#n" x="656"/></g>
<g id="r70" transform="translate(0 3650)"><use href="#N" x="84"/><use href="#N" x="136"/><use href="#N" x="188"/><use href="#N" x="240"/><use href="#N" x="292"/><use href="#N" x="344"/><use href="#N" x="396"/><use href="#N" x="448"/><use href="#N" x="500"/><use href="#N" x="552"/><use href="#N" x="604"/><use href="#N" x="656"/></g>
</g>
<g id="row-labels-left" class="lb" text-anchor="end">
<text x="22" y="66.5">1</text><text x="22" y="118.5">2</text><text x="22" y="170.5">3</text><text x="22" y="222.5">4</text><text x="22" y="274.5">5</text><text x="22" y="326.5">6</text><text x="22" y="378.5">7</text><text x="22" y="430.5">8</text><text x="22" y="482.5">9</text><text x="22" y="534.5">10</text>
<text x="22" y="586.5">11</text><text x="22" y="638.5">12</text><text x="22" y="690.5">13</text><text x="22" y="742.5">14</text><text x="22" y="794.5">15</text><text x="22" y="846.5">16</text><text x="22" y="898.5">17</text><text x="22" y="950.5">18</text><text x="22" y="1002.5">19</text><text x="22" y="1054.5">20</text>
<text x="22" y="1106.5">21</text><text x="22" y="1158.5">22</text><text x="22" y="1210.5">23</text><text x="22" y="1262.5">24</text><text x="22" y="1314.5">25</text><text x="22" y="1366.5">26</text><text x="22" y="1418.5">27</text><text x="22" y="1470.5">28</text><text x="22" y="1522.5">29</text><text x="22" y="1574.5">30</text>
<text x="22" y="1626.5">31</text><text x="22" y="1678.5">32</text><text x="22" y="1730.5">33</text><text x="22" y="1782.5">34</text><text x="22" y="1834.5">35</text><text x="22" y="1886.5">36</text><text x="22" y="1938.5">37</text><text x="22" y="1990.5">38</text><text x="22" y="2042.5">39</text><text x="22" y="2094.5">40</text>
<text x="22" y="2146.5">41</text><text x="22" y="2198.5">42</text><text x="22" y="2250.5">43</text><text x="22" y="2302.5">44</text><text x="22" y="2354.5">45</text><text x="22" y="2406.5">46</text><text x="22" y="2458.5">47</text><text x="22" y="2510.5">48</text><text x="22" y="2562.5">49</text><text x="22" y="2614.5">50</text>
<text x="22" y="2666.5">51</text><text x="22" y="2718.5">52</text><text x="22" y="2770.5">53</text><text x="22" y="2822.5">54</text><text x="22" y="2874.5">55</text><text x="22" y="2926.5">56</text><text x="22" y="2978.5">57</text><text x="22" y="3030.5">58</text><text x="22" y="3082.5">59</text><text x="22" y="3134.5">60</text>
<text x="22" y="3186.5">61</text><text x="22" y="3238.5">62</text><text x="22" y="3290.5">63</text><text x="22" y="3342.5">64</text><text x="22" y="3394.5">65</text><text x="22" y="3446.5">66</text><text x="22" y="3498.5">67</text><text x="22" y="3550.5">68</text><text x="22" y="3602.5">69</text><text x="22" y="3654.5">70</text>
</g>
<g id="row-labels-right" class="lb">
<text x="717" y="66.5">1</text><text x="717" y="118.5">2</text><text x="717" y="170.5">3</text><text x="717" y="222.5">4</text><text x="717" y="274.5">5</text><text x="717" y="326.5">6</text><text x="717" y="378.5">7</text><text x="717" y="430.5">8</text><text x="717" y="482.5">9</text><text x="717" y="534.5">10</text>
<text x="717" y="586.5">11</text><text x="717" y="638.5">12</text><text x="717" y="690.5">13</text><text x="717" y="742.5">14</text><text x="717" y="794.5">15</text><text x="717" y="846.5">16</text><text x="717" y="898.5">17</text><text x="717" y="950.5">18</text><text x="717" y="1002.5">19</text><text x="717" y="1054.5">20</text>
<text x="717" y="1106.5">21</text><text x="717" y="1158.5">22</text><text x="717" y="1210.5">23</text><text x="717" y="1262.5">24</text><text x="717" y="1314.5">25</text><text x="717" y="1366.5">26</text><text x="717" y="1418.5">27</text><text x="717" y="1470.5">28</text><text x="717" y="1522.5">29</text><text x="717" y="1574.5">30</text>
<text x="717" y="1626.5">31</text><text x="717" y="1678.5">32</text><text x="717" y="1730.5">33</text><text x="717" y="1782.5">34</text><text x="717" y="1834.5">35</text><text x="717" y="1886.5">36</text><text x="717" y="1938.5">37</text><text x="717" y="1990.5">38</text><text x="717" y="2042.5">39</text><text x="717" y="2094.5">40</text>
<text x="717" y="2146.5">41</text><text x="717" y="2198.5">42</text><text x="717" y="2250.5">43</text><text x="717" y="2302.5">44</text><text x="717" y="2354.5">45</text><text x="717" y="2406.5">46</text><text x="717" y="2458.5">47</text><text x="717" y="2510.5">48</text><text x="717" y="2562.5">49</text><text x="717" y="2614.5">50</text>
<text x="717" y="2666.5">51</text><text x="717" y="2718.5">52</text><text x="717" y="2770.5">53</text><text x="717" y="2822.5">54</text><text x="717" y="2874.5">55</text><text x="717" y="2926.5">56</text><text x="717" y="2978.5">57</text><text x="717" y="3030.5">58</text><text x="717" y="3082.5">59</text><text x="717" y="3134.5">60</text>
<text x="717" y="3186.5">61</text><text x="717" y="3238.5">62</text><text x="717" y="3290.5">63</text><text x="717" y="3342.5">64</text><text x="717" y="3394.5">65</text><text x="717" y="3446.5">66</text><text x="717" y="3498.5">67</text><text x="717" y="3550.5">68</text><text x="717" y="3602.5">69</text><text x="717" y="3654.5">70</text>
</g>
<text id="watermark" class="wm" x="294" y="1861" textLength="154" lengthAdjust="spacingAndGlyphs">BRACELETBOOK.COM</text>
</svg>
